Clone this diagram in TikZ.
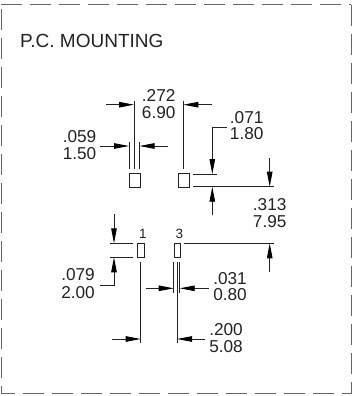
\documentclass[tikz,border=0pt]{standalone}
\usepackage{fontspec}
\setmainfont{Liberation Sans}
\usetikzlibrary{arrows.meta}
\definecolor{ink}{HTML}{222222}
\definecolor{framegrey}{HTML}{666666}
\tikzset{
  frameline/.style={draw=framegrey,line width=1pt,dash pattern=on 21pt off 8pt,dash phase=#1},
  pad/.style={draw=ink,line width=1pt,fill=white,minimum width=#1,inner sep=0pt,anchor=north west},
  extline/.style={draw=ink,line width=0.9pt},
  dimarrow/.style={draw=ink,line width=0.9pt,-{Triangle[length=15pt,width=5.5pt,color=black]}},
  dimtext/.style={inner sep=0pt,text=ink,font=\fontsize{17.2}{17.2}\selectfont},
  pintext/.style={inner sep=0pt,text=ink,font=\fontsize{13.5}{13.5}\selectfont},
  titletext/.style={inner sep=0pt,text=ink,font=\fontsize{19}{19}\selectfont,anchor=west},
}
\begin{document}
\begin{tikzpicture}[x=1pt,y=-1pt]
\useasboundingbox (0,0) rectangle (352,396);
% frame
\coordinate (fa) at (1,4.5); \coordinate (fb) at (351,4.5);
\coordinate (fc) at (351,393.5); \coordinate (fd) at (1,393.5);
\draw[frameline=0pt] (fa) -- (fb);
\draw[frameline=28.5pt] (fb) -- (fc);
\draw[frameline=7pt] (fd) -- (fc);
\draw[frameline=24.5pt] (fa) -- (fd);
\node[titletext] (title) at (20,41) {P.C. MOUNTING};
% upper pads
\node[pad=11.5pt,minimum height=13.4pt] (padA) at (128.5,173.3) {};
\node[pad=11.5pt,minimum height=13.4pt] (padB) at (177.7,173.3) {};
% lower pads
\node[pad=6.7pt,minimum height=14pt] (padC) at (137.3,243.3) {};
\node[pad=6pt,minimum height=14pt] (padD) at (173.7,243.3) {};
\node[pintext] (pinone) at (143,233.5) {1};
\node[pintext] (pinthree) at (179.3,233.5) {3};
% .059
\coordinate (e1a) at (129,141.7); \coordinate (e1b) at (129,169.3);
\coordinate (e2a) at (139.5,141.7); \coordinate (e2b) at (139.5,169.3);
\draw[extline] (e1a) -- (e1b);
\draw[extline] (e2a) -- (e2b);
\coordinate (a1s) at (100,146); \coordinate (a1t) at (129,146);
\coordinate (a2s) at (168,146); \coordinate (a2t) at (139.5,146);
\draw[dimarrow] (a1s) -- (a1t);
\draw[dimarrow] (a2s) -- (a2t);
\node[dimtext] (t059) at (79.5,136.7) {.059};
\node[dimtext] (t150) at (79.5,154) {1.50};
% .272
\coordinate (e3a) at (134,100.7); \coordinate (e3b) at (134,169.3);
\coordinate (e4a) at (183.3,100.7); \coordinate (e4b) at (183.3,169.3);
\draw[extline] (e3a) -- (e3b);
\draw[extline] (e4a) -- (e4b);
\coordinate (a3s) at (106,104.7); \coordinate (a3t) at (134,104.7);
\coordinate (a4s) at (211.7,104.7); \coordinate (a4t) at (183.3,104.7);
\draw[dimarrow] (a3s) -- (a3t);
\draw[dimarrow] (a4s) -- (a4t);
\node[dimtext] (t272) at (158.7,95) {.272};
\node[dimtext] (t690) at (158.7,112.3) {6.90};
% .071
\coordinate (l1) at (226.7,127.3); \coordinate (l2) at (212.3,127.3); \coordinate (l3) at (212.3,174);
\draw[dimarrow] (l1) -- (l2) -- (l3);
\coordinate (h1a) at (193.3,174); \coordinate (h1b) at (216.7,174);
\coordinate (h2a) at (193.3,186.7); \coordinate (h2b) at (274,186.7);
\draw[extline] (h1a) -- (h1b);
\draw[extline] (h2a) -- (h2b);
\coordinate (u1s) at (212.3,215); \coordinate (u1t) at (212.3,186.7);
\draw[dimarrow] (u1s) -- (u1t);
\node[dimtext] (t071) at (246.7,117.3) {.071};
\node[dimtext] (t180) at (246.7,134) {1.80};
% .313
\coordinate (d2s) at (269.7,158); \coordinate (d2t) at (269.7,186.7);
\draw[dimarrow] (d2s) -- (d2t);
\coordinate (h3a) at (184,243.3); \coordinate (h3b) at (274,243.3);
\draw[extline] (h3a) -- (h3b);
\coordinate (u2s) at (269.7,271.7); \coordinate (u2t) at (269.7,243.3);
\draw[dimarrow] (u2s) -- (u2t);
\node[dimtext] (t313) at (269.7,205) {.313};
\node[dimtext] (t795) at (269.7,221.7) {7.95};
% .079
\coordinate (d3s) at (114,214.3); \coordinate (d3t) at (114,243.3);
\draw[dimarrow] (d3s) -- (d3t);
\coordinate (h4a) at (110,243.3); \coordinate (h4b) at (133.3,243.3);
\coordinate (h5a) at (110,257.3); \coordinate (h5b) at (133.3,257.3);
\draw[extline] (h4a) -- (h4b);
\draw[extline] (h5a) -- (h5b);
\coordinate (l4) at (100,285.3); \coordinate (l5) at (114,285.3); \coordinate (l6) at (114,257.3);
\draw[dimarrow] (l4) -- (l5) -- (l6);
\node[dimtext] (t079) at (78,275) {.079};
\node[dimtext] (t200) at (78,293) {2.00};
% .031
\coordinate (v1a) at (173.7,261.7); \coordinate (v1b) at (173.7,293);
\coordinate (v2a) at (179.7,261.7); \coordinate (v2b) at (179.7,293);
\draw[extline] (v1a) -- (v1b);
\draw[extline] (v2a) -- (v2b);
\coordinate (a5s) at (145.7,288.3); \coordinate (a5t) at (173.7,288.3);
\coordinate (a6s) at (209.3,288.3); \coordinate (a6t) at (179.7,288.3);
\draw[dimarrow] (a5s) -- (a5t);
\draw[dimarrow] (a6s) -- (a6t);
\node[dimtext] (t031) at (230,278.3) {.031};
\node[dimtext] (t080) at (230,295) {0.80};
% .200
\coordinate (v3a) at (140.7,261.7); \coordinate (v3b) at (140.7,342.7);
\coordinate (v4a) at (177,261.7); \coordinate (v4b) at (177,342.7);
\draw[extline] (v3a) -- (v3b);
\draw[extline] (v4a) -- (v4b);
\coordinate (a7s) at (112.3,339); \coordinate (a7t) at (140.7,339);
\coordinate (a8s) at (205,339); \coordinate (a8t) at (177,339);
\draw[dimarrow] (a7s) -- (a7t);
\draw[dimarrow] (a8s) -- (a8t);
\node[dimtext] (t2h) at (226,329.3) {.200};
\node[dimtext] (t508) at (226,346.3) {5.08};
\end{tikzpicture}
\end{document}
